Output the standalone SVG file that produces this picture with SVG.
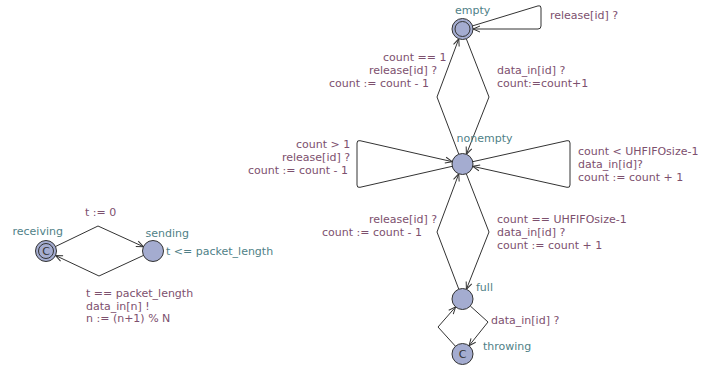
<svg xmlns="http://www.w3.org/2000/svg" width="706" height="368" viewBox="0 0 706 368">
  <style>
    text { font-family: "DejaVu Sans", "Liberation Sans", sans-serif; font-size: 11px; }
    .name { fill: #4f7f87; }
    .inv { fill: #4f7f87; }
    .lbl { fill: #7d506e; }
    .loc { fill: #a4acd0; stroke: #333; stroke-width: 1; }
    .ring { fill: none; stroke: #333; stroke-width: 1; }
    .cmark { fill: #333; font-size: 11px; text-anchor: middle; }
    .edge { fill: none; stroke: #333; stroke-width: 1; stroke-linejoin: round; marker-end: url(#arr); }
  </style>
  <defs>
    <marker id="arr" viewBox="-8 -5 10 10" refX="0" refY="0" markerWidth="10" markerHeight="10" orient="auto" markerUnits="userSpaceOnUse">
      <path d="M-7,-3 L0,0 L-7,3" fill="none" stroke="#333" stroke-width="1"/>
    </marker>
  </defs>
  <rect width="706" height="368" fill="#ffffff"/>

  <!-- connectors -->
  <g id="connectors">
    <!-- sender template -->
    <g id="e-receiving-sending">
      <path class="edge" d="M55.5,246.5 L98,226 L143.4,246.7"/>
      <text class="lbl" x="85" y="216">t := 0</text>
    </g>
    <g id="e-sending-receiving">
      <path class="edge" d="M143.5,255.4 L99,276 L55.5,255.5"/>
      <text class="lbl" x="86" y="297">t == packet_length</text>
      <text class="lbl" x="86" y="309.5">data_in[n] !</text>
      <text class="lbl" x="86" y="322">n := (n+1) % N</text>
    </g>

    <!-- buffer template -->
    <g id="e-empty-self">
      <path class="edge" d="M472.5,25.9 L538,5.9 Q541,5 541,8 L541,26 Q541,29 538,29 L473,29"/>
      <text class="lbl" x="550" y="19">release[id] ?</text>
    </g>
    <g id="e-empty-nonempty">
      <path class="edge" d="M466.3,38.8 L489,97 L466.4,154.2"/>
      <text class="lbl" x="497" y="74">data_in[id] ?</text>
      <text class="lbl" x="497" y="87.3">count:=count+1</text>
    </g>
    <g id="e-nonempty-empty">
      <path class="edge" d="M458.8,154.2 L437,97 L458.8,38.8"/>
      <text class="lbl" x="383" y="60.5">count == 1</text>
      <text class="lbl" x="369" y="74">release[id] ?</text>
      <text class="lbl" x="329" y="87.3">count := count - 1</text>
    </g>
    <g id="e-nonempty-left">
      <path class="edge" d="M452.3,166.3 L360,187.3 Q357,188 357,185 L357,143 Q357,140 360,140.7 L452.3,161.7"/>
      <text class="lbl" x="296" y="147.5">count &gt; 1</text>
      <text class="lbl" x="282" y="161">release[id] ?</text>
      <text class="lbl" x="248" y="174.3">count := count - 1</text>
    </g>
    <g id="e-nonempty-right">
      <path class="edge" d="M472.7,161.7 L567,140.7 Q570,140 570,143 L570,185 Q570,188 567,187.3 L472.7,166.3"/>
      <text class="lbl" x="578" y="155">count &lt; UHFIFOsize-1</text>
      <text class="lbl" x="578" y="167.5">data_in[id]?</text>
      <text class="lbl" x="578" y="181">count := count + 1</text>
    </g>
    <g id="e-nonempty-full">
      <path class="edge" d="M466.3,173.8 L489,232 L466.4,289.2"/>
      <text class="lbl" x="497" y="223">count == UHFIFOsize-1</text>
      <text class="lbl" x="497" y="236">data_in[id] ?</text>
      <text class="lbl" x="497" y="249">count := count + 1</text>
    </g>
    <g id="e-full-nonempty">
      <path class="edge" d="M458.8,289.2 L437,232 L458.8,173.8"/>
      <text class="lbl" x="369" y="223">release[id] ?</text>
      <text class="lbl" x="322" y="236">count := count - 1</text>
    </g>
    <g id="e-full-throwing">
      <path class="edge" d="M470.3,306 L488,322 L469,345.8"/>
      <text class="lbl" x="491" y="324">data_in[id] ?</text>
    </g>
    <g id="e-throwing-full">
      <path class="edge" d="M455.4,346.2 L438,327 L455.6,306.9"/>
    </g>
  </g>

  <!-- locations -->
  <g id="receiving">
    <circle class="loc" cx="46" cy="251" r="10.5"/>
    <circle class="ring" cx="46" cy="251" r="7.5"/>
    <text class="cmark" x="46" y="255">C</text>
    <text class="name" x="12.5" y="235">receiving</text>
  </g>
  <g id="sending">
    <circle class="loc" cx="153" cy="251" r="10.5"/>
    <text class="name" x="145.5" y="237">sending</text>
    <text class="inv" x="166" y="255">t &lt;= packet_length</text>
  </g>
  <g id="empty">
    <circle class="loc" cx="462.5" cy="29" r="10.5"/>
    <circle class="ring" cx="462.5" cy="29" r="7.5"/>
    <text class="name" x="455" y="14">empty</text>
  </g>
  <g id="nonempty">
    <circle class="loc" cx="462.5" cy="164" r="10.5"/>
    <text class="name" x="456.5" y="142">nonempty</text>
  </g>
  <g id="full">
    <circle class="loc" cx="462.5" cy="299" r="10.5"/>
    <text class="name" x="476" y="291">full</text>
  </g>
  <g id="throwing">
    <circle class="loc" cx="462.5" cy="354" r="10.5"/>
    <text class="cmark" x="462.5" y="358">C</text>
    <text class="name" x="483" y="350">throwing</text>
  </g>
</svg>
